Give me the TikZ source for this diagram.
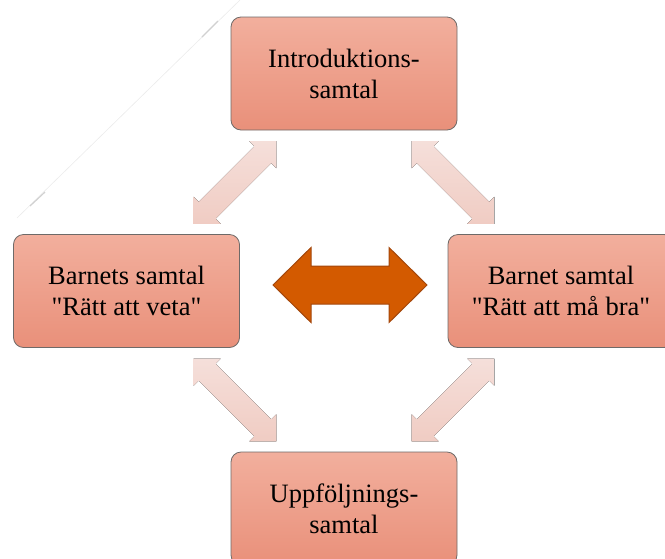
\documentclass[tikz,border=0pt]{standalone}
\usepackage{fontspec}
\setmainfont{Liberation Serif}[Ligatures=TeXOff]
\definecolor{boxtop}{HTML}{F2AF9D}
\definecolor{boxbot}{HTML}{E9907A}
\definecolor{boxedge}{HTML}{6E6A68}
\definecolor{fainttop}{HTML}{F5DFDA}
\definecolor{faintbot}{HTML}{F0CCC3}
\definecolor{centfill}{HTML}{D35A00}
\definecolor{centedge}{HTML}{A3470C}
\newcommand\dblpath[4]{(-#1,0) -- (-#1+#4,#3) -- (-#1+#4,#2) -- (#1-#4,#2) -- (#1-#4,#3) -- (#1,0) -- (#1-#4,-#3) -- (#1-#4,-#2) -- (-#1+#4,-#2) -- (-#1+#4,-#3) -- cycle}
\begin{document}
\begin{tikzpicture}[x=1pt,y=-1pt,
  box/.style={draw=boxedge, line width=0.8pt, rounded corners=10pt,
    top color=boxtop, bottom color=boxbot,
    minimum width=226pt, minimum height=113pt, align=center,
    font=\fontsize{26.5}{31}\selectfont, text=black},
  faintarrow/.style={top color=fainttop, bottom color=faintbot, draw=none},
  centarrow/.style={fill=centfill, draw=centedge, line width=1pt}]
\useasboundingbox (0,0) rectangle (665,558);
\clip (0,0) rectangle (665,558);
% faint stray line
\draw[black!8, line width=0.6pt] (17,218) -- (240,0);
\draw[black!18, line width=1.2pt] (30,206) -- (45,192);
\draw[black!18, line width=1.2pt] (202,37) -- (218,21);
% faint double arrows
\begin{scope}[shift={(235,182.5)}, rotate=45]
  \fill[faintarrow] \dblpath{58.4}{12}{19}{19};
\end{scope}
\begin{scope}[shift={(453,182.5)}, rotate=-45]
  \fill[faintarrow] \dblpath{58.4}{12}{19}{19};
\end{scope}
\begin{scope}[shift={(235,400)}, rotate=-45]
  \fill[faintarrow] \dblpath{58.4}{12}{19}{19};
\end{scope}
\begin{scope}[shift={(453,400)}, rotate=45]
  \fill[faintarrow] \dblpath{58.4}{12}{19}{19};
\end{scope}
% boxes
\node[box] (intro) at (344,73.5) {Introduktions-\\samtal};
\node[box] (veta) at (126.5,291) {Barnets samtal\\"Rätt att veta"};
\node[box] (bra) at (561,291) {Barnet samtal\\"Rätt att må bra"};
\node[box] (uppf) at (344,508.5) {Uppföljnings-\\samtal};
% central double arrow
\begin{scope}[shift={(350,285)}]
  \path[centarrow] \dblpath{77}{19}{37.5}{38};
\end{scope}
\end{tikzpicture}
\end{document}
